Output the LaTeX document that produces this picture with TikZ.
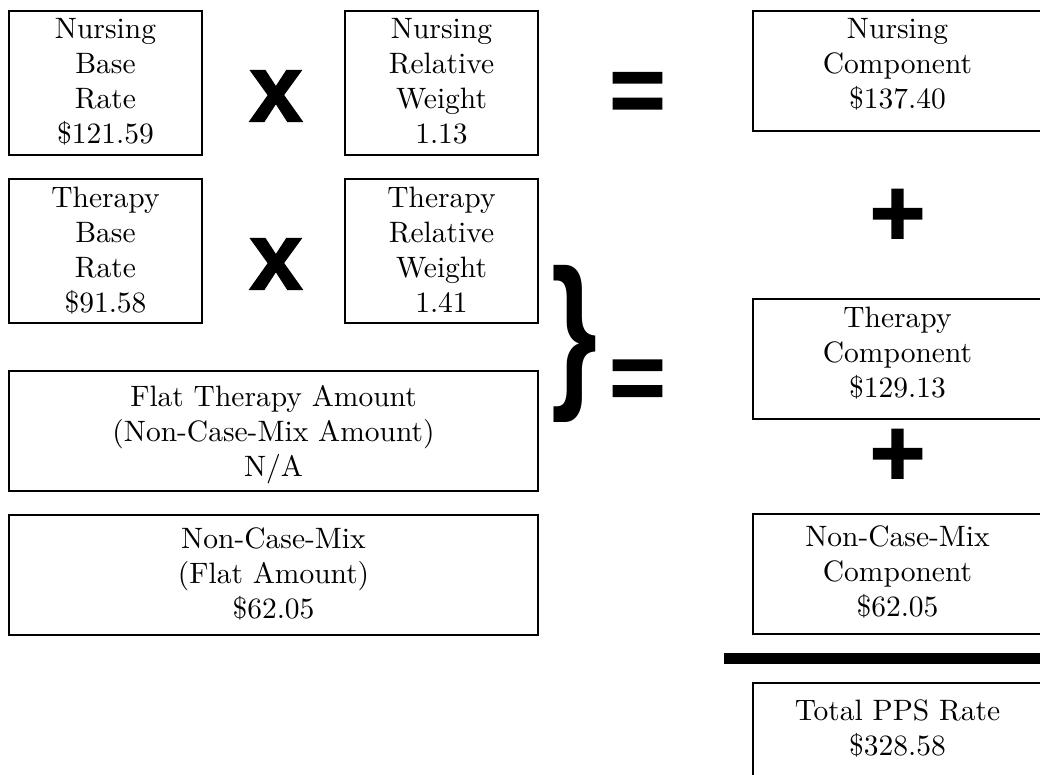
\documentclass[tikz,border=0pt]{standalone}
\usepackage{fontspec}
\usepackage{graphicx}
\setmainfont{lmroman10-regular.otf}
\newfontfamily\heavyfont{Liberation Sans Bold}[FakeBold=1.5]
\newfontfamily\bracefont{Liberation Sans Bold}
\tikzset{
  box/.style={draw=black, line width=2pt, rectangle, inner sep=0pt, anchor=north west},
  txt/.style={align=center, inner sep=0pt, anchor=north, font=\fontsize{29.5}{35}\selectfont},
  sym/.style={inner sep=0pt, font=\heavyfont\fontsize{96}{96}\selectfont},
}
\begin{document}
\begin{tikzpicture}[x=1pt,y=-1pt]
\clip (0,0) rectangle (1040,774);
\fill[white] (0,0) rectangle (1040,774);
% left column boxes
\node[box, minimum width=193pt, minimum height=144pt] (nbr) at (8,10) {};
\node[box, minimum width=193pt, minimum height=144pt] (nrw) at (344,10) {};
\node[box, minimum width=193pt, minimum height=144pt] (tbr) at (8,178) {};
\node[box, minimum width=193pt, minimum height=144pt] (trw) at (344,178) {};
\node[box, minimum width=529pt, minimum height=120pt] (fta) at (8,370) {};
\node[box, minimum width=529pt, minimum height=120pt] (ncm) at (8,514) {};
% right column boxes
\node[box, minimum width=291pt, minimum height=120pt] (nc) at (752,10) {};
\node[box, minimum width=291pt, minimum height=120pt] (tc) at (752,298) {};
\node[box, minimum width=291pt, minimum height=120pt] (ncmc) at (752,513) {};
\node[box, minimum width=291pt, minimum height=120pt] (tot) at (752,682) {};
% texts
\node[txt] (nbr-t) at ([yshift=-8pt]nbr.north) {Nursing\\Base\\Rate\\\$121.59};
\node[txt] (nrw-t) at ([yshift=-8pt]nrw.north) {Nursing\\Relative\\Weight\\1.13};
\node[txt] (tbr-t) at ([yshift=-9pt]tbr.north) {Therapy\\Base\\Rate\\\$91.58};
\node[txt] (trw-t) at ([yshift=-9pt]trw.north) {Therapy\\Relative\\Weight\\1.41};
\node[txt] (fta-t) at ([yshift=-15pt]fta.north) {Flat Therapy Amount\\(Non-Case-Mix Amount)\\N/A};
\node[txt] (ncm-t) at ([yshift=-13pt]ncm.north) {Non-Case-Mix\\(Flat Amount)\\\$62.05};
\node[txt] (nc-t) at (897.5,18) {Nursing\\Component\\\$137.40};
\node[txt] (tc-t) at (897.5,307) {Therapy\\Component\\\$129.13};
\node[txt] (ncmc-t) at (897.5,525) {Non-Case-Mix\\Component\\\$62.05};
\node[txt] (tot-t) at (897.5,699) {Total PPS Rate\\\$328.58};
% operators
\node[sym] (x1) at (276,96) {x};
\node[sym] (x2) at (276,264) {x};
\node[sym] (eq1) at (637.5,97.5) {=};
\node[sym] (eq2) at (637.5,385) {=};
\node[sym] (pl1) at (897.5,217.5) {+};
\node[sym] (pl2) at (897.5,457.5) {+};
\node[inner sep=0pt] (brace) at (574,343.5) {\resizebox*{46pt}{157pt}{\bracefont\}}};
% total bar
\fill[black] (724,653) rectangle (1045,664);
\end{tikzpicture}
\end{document}
